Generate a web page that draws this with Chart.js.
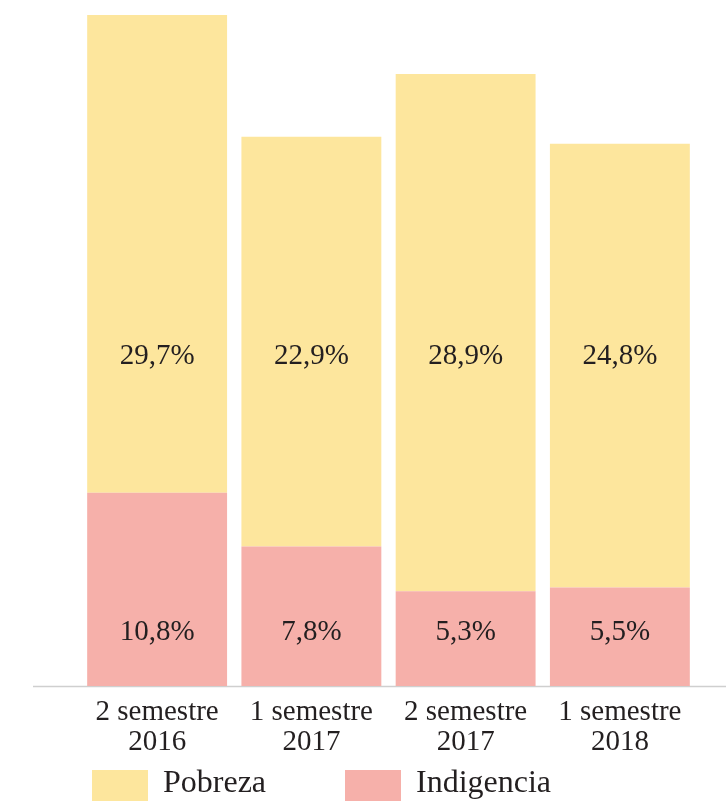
<!DOCTYPE html>
<html>
<head>
<meta charset="utf-8">
<script src="https://cdn.jsdelivr.net/npm/chart.js@4/dist/chart.umd.min.js"></script>
<style>
  html, body { margin: 0; padding: 0; background: #ffffff; }
  #wrap { width: 726px; height: 801px; }
</style>
</head>
<body>
<div id="wrap"><canvas id="c" width="726" height="801"></canvas></div>
<script>
const categories = [["2 semestre", "2016"], ["1 semestre", "2017"], ["2 semestre", "2017"], ["1 semestre", "2018"]];
const indigencia = [10.8, 7.8, 5.3, 5.5];
const pobreza = [29.7, 22.9, 28.9, 24.8];
const seriesNames = ["Pobreza", "Indigencia"];

const YELLOW = "#fde69d";
const PINK = "#f6b0aa";
const TEXT = "#231f20";
const FONT = "'Liberation Serif', 'Times New Roman', serif";

const fmt = v => v.toFixed(1).replace(".", ",") + "%";

const baselinePlugin = {
  id: "baseline",
  beforeDatasetsDraw(chart) {
    const ctx = chart.ctx;
    const y = chart.scales.y.getPixelForValue(0);
    ctx.save();
    ctx.strokeStyle = "#cfcfcf";
    ctx.lineWidth = 1.5;
    ctx.beginPath();
    ctx.moveTo(33, y + 0.5);
    ctx.lineTo(726, y + 0.5);
    ctx.stroke();
    ctx.restore();
  }
};

const valueLabels = {
  id: "valueLabels",
  afterDatasetsDraw(chart, args, opts) {
    const ctx = chart.ctx;
    const yScale = chart.scales.y;
    ctx.save();
    ctx.font = "29px " + FONT;
    ctx.fillStyle = TEXT;
    ctx.textAlign = "center";
    ctx.textBaseline = "middle";
    chart.data.datasets.forEach((ds, di) => {
      const meta = chart.getDatasetMeta(di);
      const at = opts.anchors[ds.label];
      meta.data.forEach((el, i) => {
        ctx.fillText(fmt(ds.data[i]), el.x, yScale.getPixelForValue(at));
      });
    });
    ctx.restore();
  }
};

const customLegend = {
  id: "customLegend",
  afterDraw(chart, args, opts) {
    const ctx = chart.ctx;
    ctx.save();
    ctx.font = "32px " + FONT;
    ctx.textBaseline = "middle";
    ctx.textAlign = "left";
    seriesNames.forEach((name, k) => {
      const ds = chart.data.datasets.find(d => d.label === name);
      const x = opts.xs[k];
      ctx.fillStyle = ds.backgroundColor;
      ctx.fillRect(x, opts.top, opts.boxW, opts.boxH);
      ctx.fillStyle = TEXT;
      ctx.fillText(name, x + opts.boxW + 15, opts.textY);
    });
    ctx.restore();
  }
};

new Chart(document.getElementById("c"), {
  type: "bar",
  data: {
    labels: categories,
    datasets: [
      { label: "Indigencia", data: indigencia, backgroundColor: PINK, borderWidth: 0 },
      { label: "Pobreza", data: pobreza, backgroundColor: YELLOW, borderWidth: 0 }
    ]
  },
  options: {
    responsive: false,
    animation: false,
    events: [],
    layout: { padding: { left: 80, right: 29, top: 15, bottom: 33 } },
    datasets: { bar: { categoryPercentage: 1.0, barPercentage: 0.907 } },
    scales: {
      x: {
        stacked: true,
        grid: { display: false, drawTicks: false },
        border: { display: false },
        ticks: {
          color: TEXT,
          padding: 11,
          maxRotation: 0,
          autoSkip: false,
          font: { family: FONT, size: 29, lineHeight: "30px" }
        }
      },
      y: {
        stacked: true,
        display: false,
        min: 0,
        max: 37.5
      }
    },
    plugins: {
      legend: { display: false },
      tooltip: { enabled: false },
      valueLabels: { anchors: { "Pobreza": 18.4, "Indigencia": 3.0 } },
      customLegend: { xs: [92, 345], top: 770, boxW: 56, boxH: 31, textY: 784 }
    }
  },
  plugins: [baselinePlugin, valueLabels, customLegend]
});
</script>
</body>
</html>
